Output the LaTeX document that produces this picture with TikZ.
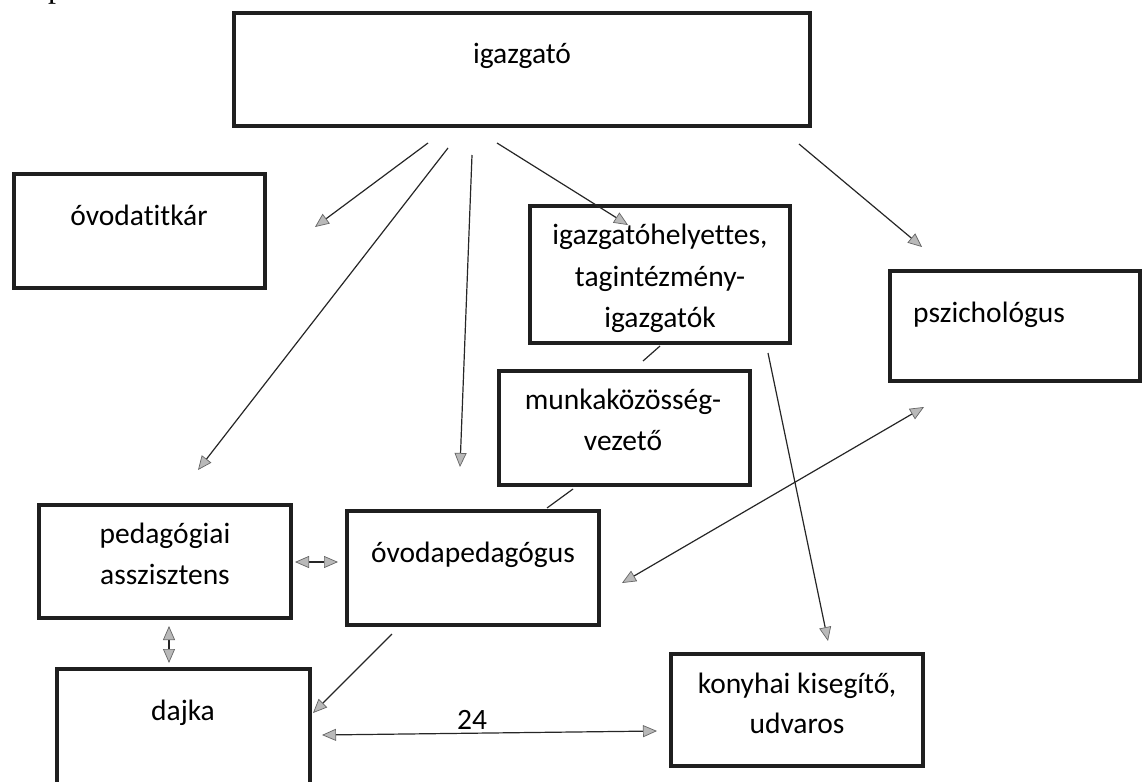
\documentclass[tikz,border=0pt]{standalone}
\usepackage{fontspec}
\setmainfont{Carlito}[Ligatures={NoCommon}]
\newfontfamily\serifp{Liberation Serif}
\usetikzlibrary{arrows.meta}
\begin{document}
\begin{tikzpicture}[x=1pt,y=-1pt,
  box/.style={draw=black!88, line width=3.8pt, inner sep=0pt},
  txt/.style={font=\fontsize{29.5}{41}\selectfont, anchor=base, inner sep=0pt},
  conn/.style={line width=1.2pt, draw=black!85},
  >={Triangle[length=14pt,width=12pt,fill=gray!55,color=black!60,line width=0.7pt]}]
\useasboundingbox (0,0) rectangle (1147,781);
\clip (0,0) rectangle (1147,781);
% fragment of previous page text
\node[anchor=base west, inner sep=0pt, font=\serifp\fontsize{32}{36}\selectfont] (frag) at (48,-2) {p};
% boxes
\node[box, minimum width=576pt, minimum height=113pt] (ig) at (522,69.5) {};
\node[box, minimum width=251pt, minimum height=114pt] (tit) at (139.5,231) {};
\node[box, minimum width=260pt, minimum height=137pt] (hely) at (660,274.5) {};
\node[box, minimum width=250pt, minimum height=110pt] (psz) at (1015,326) {};
\node[box, minimum width=251pt, minimum height=114pt] (mk) at (624.5,428) {};
\node[box, minimum width=252pt, minimum height=114pt] (ovp) at (473,568) {};
\node[box, minimum width=252pt, minimum height=113pt] (ped) at (165,561.5) {};
\node[box, minimum width=253pt, minimum height=140pt] (dajka) at (183.5,739) {};
\node[box, minimum width=252pt, minimum height=112pt] (kon) at (797,710) {};
% texts
\node[txt] (ig-t) at (522,64) {igazgató};
\node[txt] (tit-t) at (139,225) {óvodatitkár};
\node[txt] (hely-t1) at (660,244) {igazgatóhelyettes,};
\node[txt] (hely-t2) at (660,286) {tagintézmény-};
\node[txt] (hely-t3) at (660,327) {igazgatók};
\node[txt, anchor=base west] (psz-t) at (913,322) {pszichológus};
\node[txt] (mk-t1) at (623,409) {munkaközösség-};
\node[txt] (mk-t2) at (623,450) {vezető};
\node[txt] (ovp-t) at (473,562) {óvodapedagógus};
\node[txt] (ped-t1) at (165,543) {pedagógiai};
\node[txt] (ped-t2) at (165,584) {asszisztens};
\node[txt] (dajka-t) at (183,720) {dajka};
\node[txt] (kon-t1) at (797,693) {konyhai kisegítő,};
\node[txt] (kon-t2) at (797,733) {udvaros};
% connector end points
\coordinate (a1s) at (428,143);  \coordinate (a1e) at (315,227);
\coordinate (a2s) at (448,148);  \coordinate (a2e) at (198,470);
\coordinate (a3s) at (472,155);  \coordinate (a3e) at (460,467);
\coordinate (a4s) at (497,143);  \coordinate (a4e) at (628,225);
\coordinate (a5s) at (799,144);  \coordinate (a5e) at (922,247);
\coordinate (a6s) at (768,353);  \coordinate (a6e) at (828,641);
\coordinate (a7s) at (622,583);  \coordinate (a7e) at (924,407);
\coordinate (a8s) at (295,562);  \coordinate (a8e) at (338,562);
\coordinate (a9s) at (169,626);  \coordinate (a9e) at (169,663);
\coordinate (a10s) at (392,634); \coordinate (a10e) at (313,713);
\coordinate (a11s) at (322,735); \coordinate (a11e) at (657,731);
\coordinate (l1s) at (660,346);  \coordinate (l1e) at (643,361);
\coordinate (l2s) at (573,489);  \coordinate (l2e) at (547,508);
% connectors
\draw[conn,->] (a1s) -- (a1e);
\draw[conn,->] (a2s) -- (a2e);
\draw[conn,->] (a3s) -- (a3e);
\draw[conn,->] (a4s) -- (a4e);
\draw[conn,->] (a5s) -- (a5e);
\draw[conn,->] (a6s) -- (a6e);
\draw[conn,<->] (a7s) -- (a7e);
\draw[conn,<->] (a8s) -- (a8e);
\draw[conn,<->] (a9s) -- (a9e);
\draw[conn,->] (a10s) -- (a10e);
\draw[conn,<->] (a11s) -- node[txt, pos=0.448, yshift=4pt] (lbl24) {24} (a11e);
\draw[conn] (l1s) -- (l1e);
\draw[conn] (l2s) -- (l2e);
\end{tikzpicture}
\end{document}
